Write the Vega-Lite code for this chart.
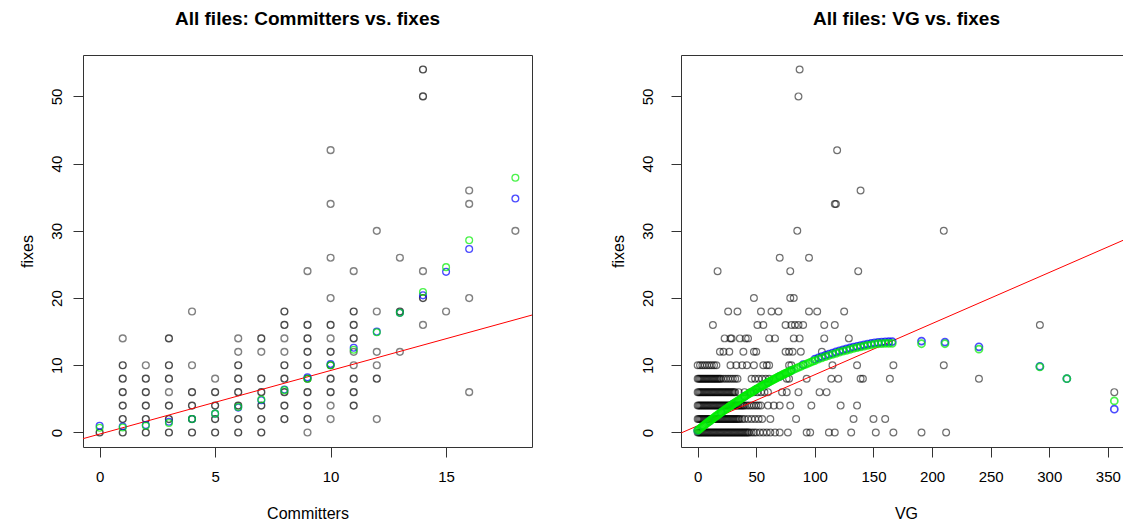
{
  "$schema": "https://vega.github.io/schema/vega-lite/v6.json",
  "padding": {"left": 19, "top": 9, "right": 0, "bottom": 0},
  "spacing": 76,
  "config": {
    "font": "Liberation Sans",
    "view": {"stroke": "#333", "strokeWidth": 1},
    "axis": {"domain": false, "grid": false, "tickSize": 10, "tickColor": "#333", "tickWidth": 1,
      "labelFont": "Liberation Sans", "labelFontSize": 15, "labelColor": "#000",
      "titleFont": "Liberation Sans", "titleFontSize": 16, "titleFontWeight": "normal", "titleColor": "#000",
      "labelFlush": false, "labelOverlap": false},
    "axisX": {"labelPadding": 12, "titlePadding": 21},
    "axisY": {"labelAngle": 270, "labelAlign": "center", "labelBaseline": "bottom", "labelPadding": 9, "titlePadding": 13.5},
    "title": {"font": "Liberation Sans", "fontSize": 19, "fontWeight": "bold", "color": "#000", "anchor": "middle", "frame": "group", "offset": 26, "baseline": "alphabetic"}
  },
  "datasets": {
    "left": [
      {"Committers":0,"fixes":0,"n":2},
      {"Committers":1,"fixes":0,"n":2},{"Committers":1,"fixes":2,"n":2},{"Committers":1,"fixes":4,"n":2},{"Committers":1,"fixes":6,"n":2},{"Committers":1,"fixes":8,"n":2},{"Committers":1,"fixes":10,"n":2},{"Committers":1,"fixes":14,"n":1},
      {"Committers":2,"fixes":0,"n":2},{"Committers":2,"fixes":2,"n":2},{"Committers":2,"fixes":4,"n":2},{"Committers":2,"fixes":6,"n":2},{"Committers":2,"fixes":8,"n":2},{"Committers":2,"fixes":10,"n":1},
      {"Committers":3,"fixes":0,"n":2},{"Committers":3,"fixes":2,"n":2},{"Committers":3,"fixes":4,"n":2},{"Committers":3,"fixes":6,"n":1},{"Committers":3,"fixes":8,"n":2},{"Committers":3,"fixes":10,"n":2},{"Committers":3,"fixes":14,"n":2},
      {"Committers":4,"fixes":0,"n":2},{"Committers":4,"fixes":2,"n":2},{"Committers":4,"fixes":4,"n":2},{"Committers":4,"fixes":6,"n":2},{"Committers":4,"fixes":10,"n":1},{"Committers":4,"fixes":18,"n":1},
      {"Committers":5,"fixes":0,"n":2},{"Committers":5,"fixes":2,"n":2},{"Committers":5,"fixes":4,"n":2},{"Committers":5,"fixes":6,"n":2},{"Committers":5,"fixes":8,"n":1},
      {"Committers":6,"fixes":0,"n":2},{"Committers":6,"fixes":2,"n":2},{"Committers":6,"fixes":4,"n":2},{"Committers":6,"fixes":6,"n":2},{"Committers":6,"fixes":8,"n":2},{"Committers":6,"fixes":10,"n":2},{"Committers":6,"fixes":12,"n":1},{"Committers":6,"fixes":14,"n":1},
      {"Committers":7,"fixes":0,"n":2},{"Committers":7,"fixes":2,"n":2},{"Committers":7,"fixes":4,"n":2},{"Committers":7,"fixes":6,"n":2},{"Committers":7,"fixes":8,"n":2},{"Committers":7,"fixes":12,"n":1},{"Committers":7,"fixes":14,"n":2},
      {"Committers":8,"fixes":2,"n":2},{"Committers":8,"fixes":4,"n":2},{"Committers":8,"fixes":6,"n":2},{"Committers":8,"fixes":8,"n":2},{"Committers":8,"fixes":10,"n":2},{"Committers":8,"fixes":12,"n":1},{"Committers":8,"fixes":14,"n":1},{"Committers":8,"fixes":16,"n":2},{"Committers":8,"fixes":18,"n":2},
      {"Committers":9,"fixes":0,"n":1},{"Committers":9,"fixes":2,"n":2},{"Committers":9,"fixes":4,"n":2},{"Committers":9,"fixes":6,"n":2},{"Committers":9,"fixes":8,"n":2},{"Committers":9,"fixes":10,"n":2},{"Committers":9,"fixes":12,"n":2},{"Committers":9,"fixes":14,"n":2},{"Committers":9,"fixes":16,"n":2},{"Committers":9,"fixes":24,"n":1},
      {"Committers":10,"fixes":2,"n":1},{"Committers":10,"fixes":4,"n":1},{"Committers":10,"fixes":6,"n":2},{"Committers":10,"fixes":8,"n":2},{"Committers":10,"fixes":10,"n":2},{"Committers":10,"fixes":12,"n":2},{"Committers":10,"fixes":14,"n":1},{"Committers":10,"fixes":16,"n":2},{"Committers":10,"fixes":20,"n":1},{"Committers":10,"fixes":26,"n":1},{"Committers":10,"fixes":34,"n":1},{"Committers":10,"fixes":42,"n":1},
      {"Committers":11,"fixes":4,"n":2},{"Committers":11,"fixes":6,"n":2},{"Committers":11,"fixes":8,"n":2},{"Committers":11,"fixes":10,"n":1},{"Committers":11,"fixes":12,"n":1},{"Committers":11,"fixes":14,"n":2},{"Committers":11,"fixes":16,"n":2},{"Committers":11,"fixes":18,"n":2},{"Committers":11,"fixes":24,"n":1},
      {"Committers":12,"fixes":2,"n":1},{"Committers":12,"fixes":8,"n":2},{"Committers":12,"fixes":10,"n":1},{"Committers":12,"fixes":12,"n":1},{"Committers":12,"fixes":18,"n":1},{"Committers":12,"fixes":30,"n":1},
      {"Committers":13,"fixes":12,"n":1},{"Committers":13,"fixes":18,"n":2},{"Committers":13,"fixes":26,"n":1},
      {"Committers":14,"fixes":16,"n":1},{"Committers":14,"fixes":20,"n":2},{"Committers":14,"fixes":24,"n":1},{"Committers":14,"fixes":50,"n":2},{"Committers":14,"fixes":54,"n":2},
      {"Committers":15,"fixes":18,"n":1},
      {"Committers":16,"fixes":6,"n":1},{"Committers":16,"fixes":20,"n":1},{"Committers":16,"fixes":34,"n":1},{"Committers":16,"fixes":36,"n":1},
      {"Committers":18,"fixes":30,"n":1}
    ],
    "leftfit": [
      {"Committers":0,"fixes":1.0,"model":"fit1"},{"Committers":1,"fixes":0.9,"model":"fit1"},{"Committers":2,"fixes":1.1,"model":"fit1"},{"Committers":3,"fixes":1.6,"model":"fit1"},{"Committers":4,"fixes":2.0,"model":"fit1"},{"Committers":5,"fixes":2.8,"model":"fit1"},{"Committers":6,"fixes":3.7,"model":"fit1"},{"Committers":7,"fixes":4.8,"model":"fit1"},{"Committers":8,"fixes":6.4,"model":"fit1"},{"Committers":9,"fixes":8.2,"model":"fit1"},{"Committers":10,"fixes":10.2,"model":"fit1"},{"Committers":11,"fixes":12.6,"model":"fit1"},{"Committers":12,"fixes":15.0,"model":"fit1"},{"Committers":13,"fixes":17.8,"model":"fit1"},{"Committers":14,"fixes":20.4,"model":"fit1"},{"Committers":15,"fixes":23.9,"model":"fit1"},{"Committers":16,"fixes":27.3,"model":"fit1"},{"Committers":18,"fixes":34.8,"model":"fit1"},
      {"Committers":0,"fixes":0.7,"model":"fit2"},{"Committers":1,"fixes":0.75,"model":"fit2"},{"Committers":2,"fixes":1.0,"model":"fit2"},{"Committers":3,"fixes":1.4,"model":"fit2"},{"Committers":4,"fixes":2.0,"model":"fit2"},{"Committers":5,"fixes":2.8,"model":"fit2"},{"Committers":6,"fixes":3.8,"model":"fit2"},{"Committers":7,"fixes":4.9,"model":"fit2"},{"Committers":8,"fixes":6.3,"model":"fit2"},{"Committers":9,"fixes":8.0,"model":"fit2"},{"Committers":10,"fixes":10.0,"model":"fit2"},{"Committers":11,"fixes":12.3,"model":"fit2"},{"Committers":12,"fixes":14.9,"model":"fit2"},{"Committers":13,"fixes":17.8,"model":"fit2"},{"Committers":14,"fixes":20.9,"model":"fit2"},{"Committers":15,"fixes":24.6,"model":"fit2"},{"Committers":16,"fixes":28.6,"model":"fit2"},{"Committers":18,"fixes":37.9,"model":"fit2"}
    ],
    "leftline": [{"Committers":-0.72,"fixes":-0.92},{"Committers":18.72,"fixes":17.47}],
    "right": [
      {"VG":0,"fixes":0},{"VG":1,"fixes":0},{"VG":2,"fixes":0},{"VG":3,"fixes":0},{"VG":4,"fixes":0},{"VG":5,"fixes":0},{"VG":6,"fixes":0},{"VG":7,"fixes":0},{"VG":8,"fixes":0},{"VG":9,"fixes":0},{"VG":10,"fixes":0},{"VG":11,"fixes":0},{"VG":12,"fixes":0},{"VG":13,"fixes":0},{"VG":14,"fixes":0},{"VG":15,"fixes":0},{"VG":16,"fixes":0},{"VG":17,"fixes":0},{"VG":18,"fixes":0},{"VG":19,"fixes":0},{"VG":20,"fixes":0},{"VG":21,"fixes":0},{"VG":22,"fixes":0},{"VG":23,"fixes":0},{"VG":24,"fixes":0},{"VG":25,"fixes":0},{"VG":26,"fixes":0},{"VG":27,"fixes":0},{"VG":28,"fixes":0},{"VG":29,"fixes":0},{"VG":30,"fixes":0},{"VG":31,"fixes":0},{"VG":32,"fixes":0},{"VG":33,"fixes":0},{"VG":34,"fixes":0},{"VG":35,"fixes":0},{"VG":36,"fixes":0},{"VG":37,"fixes":0},{"VG":38,"fixes":0},{"VG":39,"fixes":0},{"VG":40,"fixes":0},{"VG":41,"fixes":0},{"VG":42,"fixes":0},{"VG":43,"fixes":0},{"VG":44,"fixes":0},{"VG":46,"fixes":0},{"VG":48,"fixes":0},{"VG":50,"fixes":0},{"VG":53,"fixes":0},{"VG":56,"fixes":0},{"VG":59,"fixes":0},{"VG":62,"fixes":0},{"VG":66,"fixes":0},{"VG":70,"fixes":0},{"VG":77,"fixes":0},{"VG":93,"fixes":0},{"VG":96,"fixes":0},{"VG":112,"fixes":0},{"VG":117,"fixes":0},{"VG":131,"fixes":0},{"VG":152,"fixes":0},{"VG":167,"fixes":0},{"VG":191,"fixes":0},{"VG":212,"fixes":0},
      {"VG":0,"fixes":2},{"VG":1,"fixes":2},{"VG":2,"fixes":2},{"VG":3,"fixes":2},{"VG":4,"fixes":2},{"VG":5,"fixes":2},{"VG":6,"fixes":2},{"VG":7,"fixes":2},{"VG":8,"fixes":2},{"VG":9,"fixes":2},{"VG":10,"fixes":2},{"VG":11,"fixes":2},{"VG":12,"fixes":2},{"VG":13,"fixes":2},{"VG":14,"fixes":2},{"VG":15,"fixes":2},{"VG":16,"fixes":2},{"VG":17,"fixes":2},{"VG":18,"fixes":2},{"VG":19,"fixes":2},{"VG":20,"fixes":2},{"VG":21,"fixes":2},{"VG":22,"fixes":2},{"VG":23,"fixes":2},{"VG":24,"fixes":2},{"VG":25,"fixes":2},{"VG":26,"fixes":2},{"VG":27,"fixes":2},{"VG":28,"fixes":2},{"VG":29,"fixes":2},{"VG":30,"fixes":2},{"VG":31,"fixes":2},{"VG":32,"fixes":2},{"VG":33,"fixes":2},{"VG":34,"fixes":2},{"VG":35,"fixes":2},{"VG":36,"fixes":2},{"VG":38,"fixes":2},{"VG":40,"fixes":2},{"VG":43,"fixes":2},{"VG":46,"fixes":2},{"VG":49,"fixes":2},{"VG":52,"fixes":2},{"VG":55,"fixes":2},{"VG":62,"fixes":2},{"VG":84,"fixes":2},{"VG":133,"fixes":2},{"VG":150,"fixes":2},{"VG":160,"fixes":2},
      {"VG":0,"fixes":4},{"VG":1,"fixes":4},{"VG":2,"fixes":4},{"VG":3,"fixes":4},{"VG":4,"fixes":4},{"VG":5,"fixes":4},{"VG":6,"fixes":4},{"VG":7,"fixes":4},{"VG":8,"fixes":4},{"VG":9,"fixes":4},{"VG":10,"fixes":4},{"VG":11,"fixes":4},{"VG":12,"fixes":4},{"VG":13,"fixes":4},{"VG":14,"fixes":4},{"VG":15,"fixes":4},{"VG":16,"fixes":4},{"VG":17,"fixes":4},{"VG":18,"fixes":4},{"VG":19,"fixes":4},{"VG":20,"fixes":4},{"VG":21,"fixes":4},{"VG":22,"fixes":4},{"VG":23,"fixes":4},{"VG":24,"fixes":4},{"VG":25,"fixes":4},{"VG":26,"fixes":4},{"VG":27,"fixes":4},{"VG":28,"fixes":4},{"VG":29,"fixes":4},{"VG":30,"fixes":4},{"VG":31,"fixes":4},{"VG":32,"fixes":4},{"VG":33,"fixes":4},{"VG":34,"fixes":4},{"VG":35,"fixes":4},{"VG":36,"fixes":4},{"VG":37,"fixes":4},{"VG":38,"fixes":4},{"VG":39,"fixes":4},{"VG":40,"fixes":4},{"VG":42,"fixes":4},{"VG":44,"fixes":4},{"VG":46,"fixes":4},{"VG":48,"fixes":4},{"VG":50,"fixes":4},{"VG":52,"fixes":4},{"VG":54,"fixes":4},{"VG":60,"fixes":4},{"VG":65,"fixes":4},{"VG":70,"fixes":4},{"VG":79,"fixes":4},{"VG":97,"fixes":4},{"VG":122,"fixes":4},{"VG":136,"fixes":4},
      {"VG":0,"fixes":6},{"VG":1,"fixes":6},{"VG":2,"fixes":6},{"VG":3,"fixes":6},{"VG":4,"fixes":6},{"VG":5,"fixes":6},{"VG":6,"fixes":6},{"VG":7,"fixes":6},{"VG":8,"fixes":6},{"VG":9,"fixes":6},{"VG":10,"fixes":6},{"VG":11,"fixes":6},{"VG":12,"fixes":6},{"VG":13,"fixes":6},{"VG":14,"fixes":6},{"VG":15,"fixes":6},{"VG":16,"fixes":6},{"VG":17,"fixes":6},{"VG":18,"fixes":6},{"VG":19,"fixes":6},{"VG":20,"fixes":6},{"VG":21,"fixes":6},{"VG":22,"fixes":6},{"VG":23,"fixes":6},{"VG":24,"fixes":6},{"VG":25,"fixes":6},{"VG":26,"fixes":6},{"VG":27,"fixes":6},{"VG":28,"fixes":6},{"VG":29,"fixes":6},{"VG":30,"fixes":6},{"VG":31,"fixes":6},{"VG":32,"fixes":6},{"VG":35,"fixes":6},{"VG":40,"fixes":6},{"VG":45,"fixes":6},{"VG":48,"fixes":6},{"VG":51,"fixes":6},{"VG":54,"fixes":6},{"VG":57,"fixes":6},{"VG":60,"fixes":6},{"VG":72,"fixes":6},{"VG":76,"fixes":6},{"VG":86,"fixes":6},{"VG":104,"fixes":6},{"VG":110,"fixes":6},
      {"VG":0,"fixes":8},{"VG":1,"fixes":8},{"VG":2,"fixes":8},{"VG":3,"fixes":8},{"VG":4,"fixes":8},{"VG":5,"fixes":8},{"VG":6,"fixes":8},{"VG":7,"fixes":8},{"VG":8,"fixes":8},{"VG":9,"fixes":8},{"VG":10,"fixes":8},{"VG":11,"fixes":8},{"VG":12,"fixes":8},{"VG":13,"fixes":8},{"VG":14,"fixes":8},{"VG":15,"fixes":8},{"VG":16,"fixes":8},{"VG":17,"fixes":8},{"VG":18,"fixes":8},{"VG":19,"fixes":8},{"VG":20,"fixes":8},{"VG":22,"fixes":8},{"VG":24,"fixes":8},{"VG":26,"fixes":8},{"VG":28,"fixes":8},{"VG":30,"fixes":8},{"VG":32,"fixes":8},{"VG":34,"fixes":8},{"VG":46,"fixes":8},{"VG":49,"fixes":8},{"VG":52,"fixes":8},{"VG":55,"fixes":8},{"VG":58,"fixes":8},{"VG":61,"fixes":8},{"VG":76,"fixes":8},{"VG":78,"fixes":8},{"VG":93,"fixes":8},{"VG":114,"fixes":8},{"VG":120,"fixes":8},{"VG":139,"fixes":8},{"VG":141,"fixes":8},{"VG":164,"fixes":8},{"VG":240,"fixes":8},
      {"VG":0,"fixes":10},{"VG":2,"fixes":10},{"VG":4,"fixes":10},{"VG":6,"fixes":10},{"VG":8,"fixes":10},{"VG":10,"fixes":10},{"VG":12,"fixes":10},{"VG":14,"fixes":10},{"VG":16,"fixes":10},{"VG":28,"fixes":10},{"VG":33,"fixes":10},{"VG":38,"fixes":10},{"VG":42,"fixes":10},{"VG":48,"fixes":10},{"VG":56,"fixes":10},{"VG":59,"fixes":10},{"VG":61,"fixes":10},{"VG":78,"fixes":10},{"VG":80,"fixes":10},{"VG":115,"fixes":10},{"VG":136,"fixes":10},{"VG":167,"fixes":10},{"VG":210,"fixes":10},
      {"VG":19,"fixes":12},{"VG":22,"fixes":12},{"VG":27,"fixes":12},{"VG":39,"fixes":12},{"VG":48,"fixes":12},{"VG":50,"fixes":12},{"VG":75,"fixes":12},{"VG":78,"fixes":12},{"VG":81,"fixes":12},{"VG":88,"fixes":12},{"VG":106,"fixes":12},
      {"VG":23,"fixes":14},{"VG":28,"fixes":14},{"VG":29,"fixes":14},{"VG":36,"fixes":14},{"VG":41,"fixes":14},{"VG":43,"fixes":14},{"VG":61,"fixes":14},{"VG":66,"fixes":14},{"VG":82,"fixes":14},{"VG":87,"fixes":14},{"VG":108,"fixes":14},{"VG":129,"fixes":14},
      {"VG":13,"fixes":16},{"VG":51,"fixes":16},{"VG":56,"fixes":16},{"VG":75,"fixes":16},{"VG":80,"fixes":16},{"VG":83,"fixes":16},{"VG":86,"fixes":16},{"VG":90,"fixes":16},{"VG":108,"fixes":16},{"VG":117,"fixes":16},{"VG":292,"fixes":16},
      {"VG":26,"fixes":18},{"VG":34,"fixes":18},{"VG":54,"fixes":18},{"VG":63,"fixes":18},{"VG":69,"fixes":18},{"VG":95,"fixes":18},{"VG":102,"fixes":18},{"VG":125,"fixes":18},
      {"VG":48,"fixes":20},{"VG":79,"fixes":20},{"VG":82,"fixes":20},
      {"VG":17,"fixes":24},{"VG":79,"fixes":24},{"VG":137,"fixes":24},
      {"VG":70,"fixes":26},{"VG":95,"fixes":26},
      {"VG":85,"fixes":30},{"VG":210,"fixes":30},
      {"VG":117,"fixes":34},{"VG":118,"fixes":34},
      {"VG":139,"fixes":36},
      {"VG":119,"fixes":42},
      {"VG":86,"fixes":50},
      {"VG":87,"fixes":54},
      {"VG":355.5,"fixes":6}
    ],
    "rightfit": [
      {"VG":0,"fixes":0.30,"model":"fit1"},{"VG":10,"fixes":1.68,"model":"fit1"},{"VG":20,"fixes":2.98,"model":"fit1"},{"VG":30,"fixes":4.20,"model":"fit1"},{"VG":40,"fixes":5.36,"model":"fit1"},{"VG":50,"fixes":6.43,"model":"fit1"},{"VG":60,"fixes":7.44,"model":"fit1"},{"VG":70,"fixes":8.36,"model":"fit1"},{"VG":80,"fixes":9.22,"model":"fit1"},{"VG":90,"fixes":10.1,"model":"fit1"},{"VG":100,"fixes":10.9,"model":"fit1"},{"VG":103,"fixes":11.1,"model":"fit1"},{"VG":106,"fixes":11.29,"model":"fit1"},{"VG":109,"fixes":11.47,"model":"fit1"},{"VG":112,"fixes":11.65,"model":"fit1"},{"VG":115,"fixes":11.82,"model":"fit1"},{"VG":118,"fixes":11.98,"model":"fit1"},{"VG":121,"fixes":12.14,"model":"fit1"},{"VG":124,"fixes":12.29,"model":"fit1"},{"VG":127,"fixes":12.43,"model":"fit1"},{"VG":130,"fixes":12.57,"model":"fit1"},{"VG":133,"fixes":12.7,"model":"fit1"},{"VG":136,"fixes":12.82,"model":"fit1"},{"VG":139,"fixes":12.93,"model":"fit1"},{"VG":142,"fixes":13.04,"model":"fit1"},{"VG":145,"fixes":13.15,"model":"fit1"},{"VG":148,"fixes":13.24,"model":"fit1"},{"VG":151,"fixes":13.33,"model":"fit1"},{"VG":154,"fixes":13.4,"model":"fit1"},{"VG":157,"fixes":13.44,"model":"fit1"},{"VG":160,"fixes":13.48,"model":"fit1"},{"VG":163,"fixes":13.5,"model":"fit1"},{"VG":166,"fixes":13.52,"model":"fit1"},{"VG":191,"fixes":13.6,"model":"fit1"},{"VG":211,"fixes":13.45,"model":"fit1"},{"VG":240,"fixes":12.75,"model":"fit1"},{"VG":292,"fixes":9.85,"model":"fit1"},{"VG":315,"fixes":8.0,"model":"fit1"},{"VG":355.5,"fixes":3.46,"model":"fit1"},
      {"VG":0,"fixes":0.30,"model":"fit2"},{"VG":1,"fixes":0.44,"model":"fit2"},{"VG":2,"fixes":0.58,"model":"fit2"},{"VG":3,"fixes":0.72,"model":"fit2"},{"VG":4,"fixes":0.86,"model":"fit2"},{"VG":5,"fixes":1.0,"model":"fit2"},{"VG":6,"fixes":1.13,"model":"fit2"},{"VG":7,"fixes":1.27,"model":"fit2"},{"VG":8,"fixes":1.41,"model":"fit2"},{"VG":9,"fixes":1.54,"model":"fit2"},{"VG":10,"fixes":1.68,"model":"fit2"},{"VG":11,"fixes":1.81,"model":"fit2"},{"VG":12,"fixes":1.94,"model":"fit2"},{"VG":13,"fixes":2.07,"model":"fit2"},{"VG":14,"fixes":2.21,"model":"fit2"},{"VG":15,"fixes":2.34,"model":"fit2"},{"VG":16,"fixes":2.47,"model":"fit2"},{"VG":17,"fixes":2.59,"model":"fit2"},{"VG":18,"fixes":2.72,"model":"fit2"},{"VG":19,"fixes":2.85,"model":"fit2"},{"VG":20,"fixes":2.98,"model":"fit2"},{"VG":21,"fixes":3.10,"model":"fit2"},{"VG":22,"fixes":3.23,"model":"fit2"},{"VG":23,"fixes":3.35,"model":"fit2"},{"VG":24,"fixes":3.48,"model":"fit2"},{"VG":25,"fixes":3.60,"model":"fit2"},{"VG":26,"fixes":3.72,"model":"fit2"},{"VG":27,"fixes":3.84,"model":"fit2"},{"VG":28,"fixes":3.96,"model":"fit2"},{"VG":29,"fixes":4.08,"model":"fit2"},{"VG":30,"fixes":4.20,"model":"fit2"},{"VG":31,"fixes":4.32,"model":"fit2"},{"VG":32,"fixes":4.44,"model":"fit2"},{"VG":33,"fixes":4.56,"model":"fit2"},{"VG":34,"fixes":4.67,"model":"fit2"},{"VG":35,"fixes":4.79,"model":"fit2"},{"VG":36,"fixes":4.90,"model":"fit2"},{"VG":37,"fixes":5.02,"model":"fit2"},{"VG":38,"fixes":5.13,"model":"fit2"},{"VG":39,"fixes":5.24,"model":"fit2"},{"VG":40,"fixes":5.36,"model":"fit2"},{"VG":41,"fixes":5.47,"model":"fit2"},{"VG":42,"fixes":5.58,"model":"fit2"},{"VG":43,"fixes":5.69,"model":"fit2"},{"VG":44,"fixes":5.80,"model":"fit2"},{"VG":45,"fixes":5.90,"model":"fit2"},{"VG":46,"fixes":6.01,"model":"fit2"},{"VG":47,"fixes":6.12,"model":"fit2"},{"VG":48,"fixes":6.22,"model":"fit2"},{"VG":49,"fixes":6.33,"model":"fit2"},{"VG":50,"fixes":6.43,"model":"fit2"},{"VG":51,"fixes":6.54,"model":"fit2"},{"VG":52,"fixes":6.64,"model":"fit2"},{"VG":53,"fixes":6.74,"model":"fit2"},{"VG":54,"fixes":6.84,"model":"fit2"},{"VG":55,"fixes":6.94,"model":"fit2"},{"VG":56,"fixes":7.04,"model":"fit2"},{"VG":57,"fixes":7.14,"model":"fit2"},{"VG":58,"fixes":7.24,"model":"fit2"},{"VG":59,"fixes":7.34,"model":"fit2"},{"VG":60,"fixes":7.44,"model":"fit2"},{"VG":61,"fixes":7.53,"model":"fit2"},{"VG":62,"fixes":7.63,"model":"fit2"},{"VG":63,"fixes":7.72,"model":"fit2"},{"VG":64,"fixes":7.82,"model":"fit2"},{"VG":65,"fixes":7.91,"model":"fit2"},{"VG":66,"fixes":8.00,"model":"fit2"},{"VG":67,"fixes":8.09,"model":"fit2"},{"VG":68,"fixes":8.18,"model":"fit2"},{"VG":69,"fixes":8.27,"model":"fit2"},{"VG":70,"fixes":8.36,"model":"fit2"},{"VG":71,"fixes":8.45,"model":"fit2"},{"VG":72,"fixes":8.54,"model":"fit2"},{"VG":73,"fixes":8.63,"model":"fit2"},{"VG":74,"fixes":8.71,"model":"fit2"},{"VG":75,"fixes":8.80,"model":"fit2"},{"VG":76,"fixes":8.88,"model":"fit2"},{"VG":77,"fixes":8.97,"model":"fit2"},{"VG":78,"fixes":9.05,"model":"fit2"},{"VG":79,"fixes":9.14,"model":"fit2"},{"VG":80,"fixes":9.22,"model":"fit2"},{"VG":82,"fixes":9.38,"model":"fit2"},{"VG":84,"fixes":9.54,"model":"fit2"},{"VG":86,"fixes":9.69,"model":"fit2"},{"VG":88,"fixes":9.85,"model":"fit2"},{"VG":90,"fixes":10.0,"model":"fit2"},{"VG":92,"fixes":10.14,"model":"fit2"},{"VG":94,"fixes":10.29,"model":"fit2"},{"VG":96,"fixes":10.43,"model":"fit2"},{"VG":98,"fixes":10.57,"model":"fit2"},{"VG":100,"fixes":10.70,"model":"fit2"},{"VG":103,"fixes":10.90,"model":"fit2"},{"VG":106,"fixes":11.09,"model":"fit2"},{"VG":109,"fixes":11.27,"model":"fit2"},{"VG":112,"fixes":11.45,"model":"fit2"},{"VG":115,"fixes":11.62,"model":"fit2"},{"VG":118,"fixes":11.78,"model":"fit2"},{"VG":121,"fixes":11.94,"model":"fit2"},{"VG":124,"fixes":12.09,"model":"fit2"},{"VG":127,"fixes":12.23,"model":"fit2"},{"VG":130,"fixes":12.37,"model":"fit2"},{"VG":133,"fixes":12.50,"model":"fit2"},{"VG":136,"fixes":12.62,"model":"fit2"},{"VG":139,"fixes":12.73,"model":"fit2"},{"VG":142,"fixes":12.84,"model":"fit2"},{"VG":145,"fixes":12.95,"model":"fit2"},{"VG":148,"fixes":13.04,"model":"fit2"},{"VG":151,"fixes":13.13,"model":"fit2"},{"VG":154,"fixes":13.2,"model":"fit2"},{"VG":157,"fixes":13.22,"model":"fit2"},{"VG":160,"fixes":13.25,"model":"fit2"},{"VG":163,"fixes":13.25,"model":"fit2"},{"VG":166,"fixes":13.25,"model":"fit2"},{"VG":191,"fixes":13.2,"model":"fit2"},{"VG":211,"fixes":13.2,"model":"fit2"},{"VG":240,"fixes":12.4,"model":"fit2"},{"VG":292,"fixes":9.75,"model":"fit2"},{"VG":315,"fixes":8.0,"model":"fit2"},{"VG":355.5,"fixes":4.7,"model":"fit2"}
    ],
    "rightline": [{"VG":-14.22,"fixes":-0.08},{"VG":363.77,"fixes":28.65}]
  },
  "hconcat": [
    {
      "width": 449,
      "height": 392,
      "title": {"text": "All files: Committers vs. fixes"},
      "layer": [
        {
          "data": {"name": "left"},
          "mark": {"type": "point", "shape": "circle", "filled": false, "size": 46, "strokeWidth": 1.4, "color": "#000"},
          "encoding": {
            "x": {"field": "Committers", "type": "quantitative", "scale": {"domain": [-0.72, 18.72], "nice": false, "zero": false}, "axis": {"values": [0, 5, 10, 15], "title": "Committers"}},
            "y": {"field": "fixes", "type": "quantitative", "scale": {"domain": [-2.16, 56.16], "nice": false, "zero": false}, "axis": {"values": [0, 10, 20, 30, 40, 50], "title": "fixes"}},
            "strokeOpacity": {"field": "n", "type": "quantitative", "scale": {"domain": [1, 2], "range": [0.7, 1]}, "legend": null}
          }
        },
        {
          "data": {"name": "leftline"},
          "mark": {"type": "line", "color": "#ff0000", "strokeWidth": 1, "clip": true},
          "encoding": {
            "x": {"field": "Committers", "type": "quantitative"},
            "y": {"field": "fixes", "type": "quantitative"}
          }
        },
        {
          "data": {"name": "leftfit"},
          "mark": {"type": "point", "shape": "circle", "filled": false, "size": 46, "strokeWidth": 1.3},
          "encoding": {
            "x": {"field": "Committers", "type": "quantitative"},
            "y": {"field": "fixes", "type": "quantitative"},
            "color": {"field": "model", "type": "nominal", "scale": {"domain": ["fit1", "fit2"], "range": ["#0000ff", "#00ee00"]}, "legend": null}
          }
        }
      ]
    },
    {
      "width": 443,
      "height": 392,
      "title": {"text": "All files: VG vs. fixes", "dx": 4},
      "layer": [
        {
          "data": {"name": "right"},
          "mark": {"type": "point", "shape": "circle", "filled": false, "size": 46, "strokeWidth": 1.2, "color": "#000", "strokeOpacity": 0.8},
          "encoding": {
            "x": {"field": "VG", "type": "quantitative", "scale": {"domain": [-14.22, 363.77], "nice": false, "zero": false}, "axis": {"values": [0, 50, 100, 150, 200, 250, 300, 350], "title": "VG", "titleX": 225}},
            "y": {"field": "fixes", "type": "quantitative", "scale": {"domain": [-2.16, 56.16], "nice": false, "zero": false}, "axis": {"values": [0, 10, 20, 30, 40, 50], "title": "fixes", "labelPadding": 16}}
          }
        },
        {
          "data": {"name": "rightline"},
          "mark": {"type": "line", "color": "#ff0000", "strokeWidth": 1, "clip": true},
          "encoding": {
            "x": {"field": "VG", "type": "quantitative"},
            "y": {"field": "fixes", "type": "quantitative"}
          }
        },
        {
          "data": {"name": "rightfit"},
          "mark": {"type": "point", "shape": "circle", "filled": false, "size": 50, "strokeWidth": 1.7},
          "encoding": {
            "x": {"field": "VG", "type": "quantitative"},
            "y": {"field": "fixes", "type": "quantitative"},
            "color": {"field": "model", "type": "nominal", "scale": {"domain": ["fit1", "fit2"], "range": ["#0000ff", "#00ee00"]}, "legend": null}
          }
        }
      ]
    }
  ]
}
